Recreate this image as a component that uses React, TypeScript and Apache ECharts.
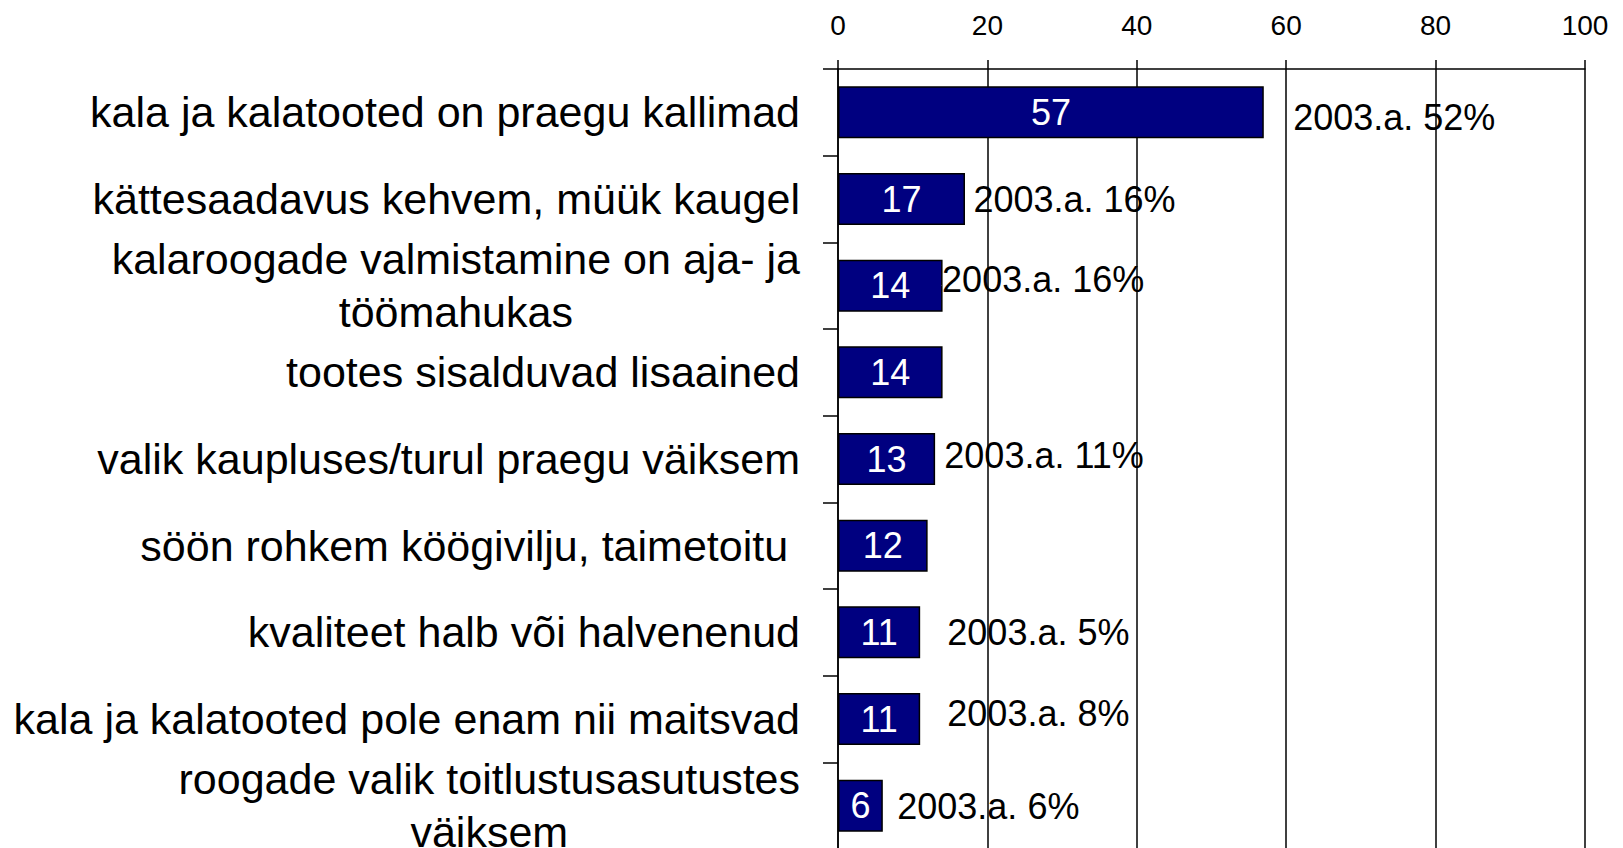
import React, { useEffect, useRef } from "react";
import * as echarts from "echarts";

// ---- data ----
const categories: string[] = [
  "kala ja kalatooted on praegu kallimad",
  "kättesaadavus kehvem, müük kaugel",
  "kalaroogade valmistamine on aja- ja\ntöömahukas",
  "tootes sisalduvad lisaained",
  "valik kaupluses/turul praegu väiksem",
  "söön rohkem köögivilju, taimetoitu ",
  "kvaliteet halb või halvenenud",
  "kala ja kalatooted pole enam nii maitsvad",
  "roogade valik toitlustusasutustes\nväiksem",
];
const values2008: number[] = [57, 17, 14, 14, 13, 12, 11, 11, 6];
const values2003: (number | null)[] = [52, 16, 16, null, 11, null, 5, 8, 6];
const xTicks: number[] = [0, 20, 40, 60, 80, 100];

// ---- layout for the 2003 annotations (in axis units / pixels) ----
const noteAnchorX: number[] = [60.9, 18.1, 13.9, 0, 14.2, 0, 14.6, 14.6, 7.9];
const noteDy: number[] = [5, 0, -6, 0, -4, 0, 0, -6, 1];

const FONT = "'Liberation Sans', Arial, Helvetica, sans-serif";

export default function App() {
  const ref = useRef<HTMLDivElement>(null);

  useEffect(() => {
    if (!ref.current) return;
    const chart = echarts.init(ref.current, undefined, { renderer: "svg" });

    const noteData = categories
      .map((c, i) => {
        const v = values2003[i];
        if (v === null || v === undefined) return null;
        return {
          value: [noteAnchorX[i], c],
          name: `2003.a. ${v}%`,
          label: { offset: [0, noteDy[i]] },
        };
      })
      .filter((d) => d !== null);

    const option: any = {
      animation: false,
      backgroundColor: "#ffffff",
      textStyle: { fontFamily: FONT },
      grid: {
        left: 838,
        right: 38,
        top: 69,
        height: 780,
        containLabel: false,
        outerBoundsMode: "none",
      },
      xAxis: {
        type: "value",
        position: "top",
        min: xTicks[0],
        max: xTicks[xTicks.length - 1],
        interval: xTicks[1] - xTicks[0],
        axisLine: { show: true, lineStyle: { color: "#000", width: 1.5 } },
        axisTick: { show: true, length: 9, lineStyle: { color: "#000", width: 1.5 } },
        axisLabel: { color: "#000", fontSize: 28, fontFamily: FONT, margin: 30 },
        splitLine: { show: true, lineStyle: { color: "#000", width: 1.5 } },
      },
      yAxis: {
        type: "category",
        inverse: true,
        data: categories,
        axisLine: { show: true, lineStyle: { color: "#000", width: 1.5 } },
        axisTick: { show: true, length: 15, lineStyle: { color: "#000", width: 1.5 } },
        axisLabel: {
          interval: 0,
          margin: 38,
          color: "#000",
          fontSize: 43,
          fontFamily: FONT,
          formatter: (v: string) =>
            v
              .split("\n")
              .map((l) => `{c|${l}}`)
              .join("\n"),
          rich: {
            c: {
              align: "center",
              fontSize: 43,
              lineHeight: 53,
              color: "#000",
              fontFamily: FONT,
            },
          },
        },
        splitLine: { show: false },
      },
      series: [
        {
          type: "bar",
          data: values2008,
          barCategoryGap: "40%",
          itemStyle: { color: "#000080", borderColor: "#000", borderWidth: 1.5 },
          label: {
            show: true,
            position: "inside",
            color: "#ffffff",
            fontSize: 36,
            fontFamily: FONT,
          },
          z: 3,
        },
        {
          type: "scatter",
          data: noteData,
          symbolSize: 0.5,
          itemStyle: { color: "#ffffff", opacity: 1 },
          label: {
            show: true,
            position: "right",
            distance: 0,
            formatter: "{b}",
            color: "#000000",
            opacity: 1,
            fontSize: 36,
            fontFamily: FONT,
          },
          z: 5,
        },
      ],
    };

    chart.setOption(option);
    return () => chart.dispose();
  }, []);

  return (
    <div
      ref={ref}
      style={{
        position: "fixed",
        left: 0,
        top: 0,
        width: 1623,
        height: 848,
        background: "#fff",
      }}
    />
  );
}
